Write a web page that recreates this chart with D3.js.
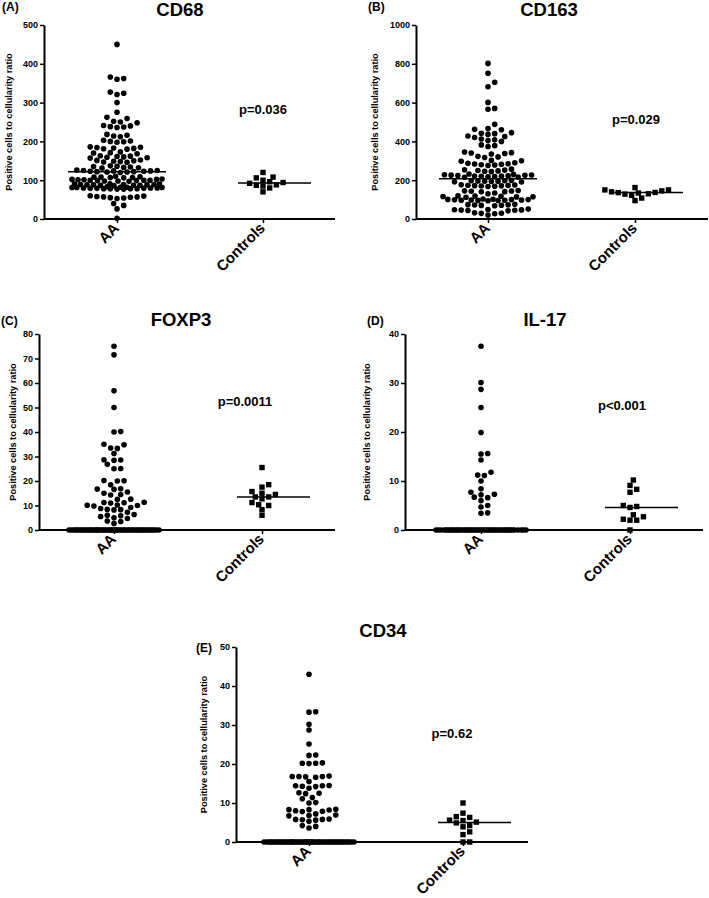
<!DOCTYPE html>
<html>
<head>
<meta charset="utf-8">
<script src="https://cdn.jsdelivr.net/npm/d3@7"></script>
<style>
  html, body { margin: 0; padding: 0; background: #fff; }
  svg { display: block; }
  text { font-family: "Liberation Sans", Arial, Helvetica, sans-serif; font-weight: bold; fill: #000; }
</style>
</head>
<body>
<svg id="chart" width="709" height="898"></svg>
<script>
// ---------------- DATA ----------------
const categories = ["AA", "Controls"];
const markers = ["CD68", "CD163", "FOXP3", "IL-17", "CD34"];
const panelLetters = ["(A)", "(B)", "(C)", "(D)", "(E)"];
const pValues = ["p=0.036", "p=0.029", "p=0.0011", "p<0.001", "p=0.62"];
const yAxisTitle = "Positive cells to cellularity ratio";

const yTicksCD68 = [0, 100, 200, 300, 400, 500];
const yTicksCD163 = [0, 200, 400, 600, 800, 1000];
const yTicksFOXP3 = [0, 10, 20, 30, 40, 50, 60, 70, 80];
const yTicksIL17 = [0, 10, 20, 30, 40];
const yTicksCD34 = [0, 10, 20, 30, 40, 50];

const cd68AA = [
  450,
  360, 362, 366,
  321, 324, 327,
  300,
  275,
  259, 262,
  248, 250, 252,
  236, 237, 238, 240, 241,
  212, 214, 216, 218,
  198, 199, 200, 201, 203,
  180, 181, 182, 183, 184, 185, 186,
  168, 170, 171, 173,
  157, 158, 159, 160, 161, 162, 163,
  146, 147, 148, 149, 150, 151, 152,
  131, 132, 133, 134, 135, 136, 137,
  120, 121, 121, 122, 122, 123, 123, 124, 124, 125, 125, 126,
  106, 107, 107, 108, 108, 109, 110,
  97, 98, 98, 99, 99, 100, 100, 100, 101, 101, 102, 102, 103,
  86, 87, 87, 87, 88, 88, 88, 89, 89, 89, 90, 90, 91,
  77, 77, 78, 78, 78, 79, 79, 79, 80, 80, 80, 81, 81, 81, 82, 82, 83, 78,
  53, 54, 55, 56, 57, 57, 58, 59, 60,
  35, 40,
  26,
  2
];
const cd68Controls = [100, 96, 88, 108, 120, 85, 70, 80, 92, 106, 94, 87];

const cd163AA = [
  20,
  27, 29, 30, 32,
  42, 44, 45, 46, 47, 48, 49, 51,
  68, 70, 71, 72, 73, 74, 76,
  94, 95, 96, 97, 97, 98, 98, 99, 100, 100, 101, 102, 103,
  112, 114, 115, 116, 117, 118, 119,
  130, 134,
  140, 141, 143, 144, 145, 147,
  167, 169, 170, 171, 172, 173, 174, 175, 176,
  191, 192, 193, 194, 195, 196, 197, 198, 199,
  215, 216, 218, 219, 220, 221, 222, 223, 224, 225, 226, 227, 228, 230, 232,
  244, 246, 248, 250, 252, 254, 257,
  276, 278, 280, 282, 283, 285, 287, 290,
  298, 300, 302,
  317, 320, 323,
  335, 338, 340, 342, 345,
  374, 378, 382,
  400, 404, 408, 412,
  420, 425, 428,
  436, 440, 442, 445,
  460, 463, 466,
  488,
  566, 570,
  601,
  682, 705, 751, 802
];
const cd163Controls = [150, 145, 137, 128, 134, 136, 140, 150, 162, 95, 108, 122, 130];

const foxp3AA = [
  75, 71.5, 56.8, 50, 40, 40.2, 35, 34.8, 33.5, 33.3, 31.2, 28.7, 28.6, 28.5, 26.8, 25, 25.1,
  20.2, 20, 20.1, 18.5, 16.8, 16.7, 16.6, 15.5, 15, 14.5, 14.3, 12.6, 12.5, 11.3, 11.2, 11, 11.1,
  10.2, 10, 10.1, 9.8, 9.2, 8.8, 8.4, 8.3, 8.2, 7.2, 6.3, 6, 5.8, 5.5, 5, 4.7, 3.7, 3.5, 2.7,
  0, 0, 0, 0, 0, 0, 0, 0, 0, 0, 0, 0, 0, 0, 0, 0, 0, 0, 0, 0,
  0, 0, 0, 0, 0, 0, 0, 0, 0, 0, 0, 0, 0, 0, 0, 0, 0, 0, 0, 0,
  0, 0, 0, 0, 0, 0, 0, 0, 0, 0, 0, 0, 0, 0, 0, 0
];
const foxp3Controls = [25.5, 18.5, 17.5, 14.5, 13.5, 12.7, 13.5, 15, 15.7, 10.3, 10, 11.2, 8.3, 6];

const il17AA = [
  37.5, 30.1, 28.7, 25, 19.9, 15.5, 15.6, 14.3, 11.8, 11.1, 11.2, 10, 8.4, 7.7, 7.2, 7.3,
  6.7, 6.6, 6, 5, 4.7, 3.4, 3.5,
  0, 0, 0, 0, 0, 0, 0, 0, 0, 0, 0, 0, 0, 0, 0, 0, 0, 0, 0, 0,
  0, 0, 0, 0, 0, 0, 0, 0, 0, 0, 0, 0, 0, 0, 0, 0, 0, 0, 0, 0,
  0, 0, 0, 0, 0, 0, 0, 0, 0, 0
];
const il17Controls = [10.2, 8.3, 9.1, 7.7, 5.0, 4.6, 4.8, 2.7, 2.0, 2.0, 2.2, 3.1, 0];

const cd34AA = [
  43, 33.4, 33.3, 30.2, 28.7, 25.1, 22.3, 22.2, 20.2, 20.1, 20.3, 20.2,
  16.8, 16.7, 16.9, 16.8, 16.6, 16.8, 15.5, 14.4, 14.3, 14.5, 14.4, 14.2, 13.8,
  12.5, 12.6, 12.4, 11.4, 11.1, 10, 10.1,
  8.3, 8.4, 8.2, 8.3, 7.9, 7.8, 8.0, 7.2, 6.8, 6.7, 6.9,
  5.8, 5.7, 5.9, 5.8, 5.6, 5.3, 4.2, 4, 3.6,
  0, 0, 0, 0, 0, 0, 0, 0, 0, 0, 0, 0, 0, 0, 0, 0, 0, 0, 0, 0,
  0, 0, 0, 0, 0, 0, 0, 0, 0, 0, 0, 0, 0, 0, 0, 0, 0, 0, 0, 0,
  0, 0, 0, 0, 0, 0, 0, 0, 0, 0, 0, 0, 0, 0, 0, 0
];
const cd34Controls = [10, 7.4, 6.5, 6.3, 5.5, 5.6, 4.9, 4.2, 3.9, 2.6, 1.9, 0, 0, 5.1];

// ---------------- LAYOUT ----------------
// catX: pixel positions of the two category ticks
const layout = [
  { left: 44,  right: 335, bottom: 219, top: 25,  yMax: 500,  ticks: yTicksCD68,  aa: cd68AA,  ctrl: cd68Controls,
    catX: [117, 263], titleXY: [180, 16], letterXY: [2, 10.5], pXY: [263, 114], yTitleX: 9 },
  { left: 416, right: 708, bottom: 219, top: 25,  yMax: 1000, ticks: yTicksCD163, aa: cd163AA, ctrl: cd163Controls,
    catX: [488, 635], titleXY: [549, 16], letterXY: [368, 10.5], pXY: [636, 124], yTitleX: 375 },
  { left: 39,  right: 335, bottom: 530, top: 334, yMax: 80,   ticks: yTicksFOXP3, aa: foxp3AA, ctrl: foxp3Controls,
    catX: [114, 262], titleXY: [181, 326], letterXY: [1, 325], pXY: [245, 406], yTitleX: 13 },
  { left: 405, right: 703, bottom: 530, top: 334, yMax: 40,   ticks: yTicksIL17,  aa: il17AA,  ctrl: il17Controls,
    catX: [481, 630], titleXY: [545, 326], letterXY: [367, 325], pXY: [622, 410], yTitleX: 367 },
  { left: 236, right: 528, bottom: 842, top: 647, yMax: 50,   ticks: yTicksCD34,  aa: cd34AA,  ctrl: cd34Controls,
    catX: [309, 463], titleXY: [383, 637], letterXY: [196, 652], pXY: [452, 738], yTitleX: 204 }
];

const svg = d3.select("#chart");

// Prism-like scatter-dot layout: points placed bottom-up, each at the
// nearest free slot on a half-spacing grid; if the row is full, squeeze in.
function swarm(values, yScale, spacing, diam, maxHalf) {
  const h = spacing / 2;
  const pts = values.map(v => ({ v, y: yScale(v) })).sort((a, b) => a.v - b.v);
  const cands = [0];
  for (let k = 1; k * h <= maxHalf; k++) cands.push(k * h, -k * h);
  const placed = [];
  for (const p of pts) {
    let pos = null;
    for (const c of cands) {
      let ok = true;
      for (const q of placed) {
        const dy = q.y - p.y;
        if (Math.abs(dy) >= diam) continue;
        const dx = q.dx - c;
        if (dx * dx + dy * dy < diam * diam - 1e-6) { ok = false; break; }
      }
      if (ok) { pos = c; break; }
    }
    if (pos === null) {
      let best = 0, bestD = -1;
      for (let c = -maxHalf; c <= maxHalf + 1e-9; c += 0.5) {
        let m = Infinity;
        for (const q of placed) {
          const dd = (q.dx - c) ** 2 + (q.y - p.y) ** 2;
          if (dd < m) m = dd;
        }
        if (m > bestD + 1e-9 || (Math.abs(m - bestD) < 1e-9 && Math.abs(c) < Math.abs(best))) { bestD = m; best = c; }
      }
      pos = best;
    }
    p.dx = pos;
    placed.push(p);
  }
  return placed;
}

layout.forEach((L, i) => {
  const g = svg.append("g");
  const y = d3.scaleLinear().domain([0, L.yMax]).range([L.bottom, L.top]);
  const x = d3.scalePoint().domain(categories).range(L.catX).padding(0);

  // x axis line (full width) + category ticks
  g.append("line").attr("x1", L.left).attr("x2", L.right).attr("y1", L.bottom).attr("y2", L.bottom)
    .attr("stroke", "#000").attr("stroke-width", 2);
  const xa = g.append("g").attr("transform", `translate(0,${L.bottom})`)
    .call(d3.axisBottom(x).tickSize(4).tickSizeOuter(0).tickFormat(""));
  xa.select(".domain").remove();
  xa.selectAll(".tick line").attr("stroke", "#000").attr("stroke-width", 1.5);

  // y axis
  const ya = g.append("g").attr("transform", `translate(${L.left},0)`)
    .call(d3.axisLeft(y).tickValues(L.ticks).tickSize(4).tickSizeOuter(0).tickPadding(2).tickFormat(d3.format("d")));
  ya.select(".domain").attr("stroke", "#000").attr("stroke-width", 2);
  ya.selectAll(".tick line").attr("stroke", "#000").attr("stroke-width", 1.5);
  ya.selectAll(".tick text").style("font-size", "9px").style("font-weight", "bold")
    .style("font-family", '"Liberation Sans", Arial, sans-serif').attr("fill", "#000");

  // category labels, rotated
  categories.forEach(c => {
    g.append("text")
      .attr("transform", `translate(${x(c) + 3},${L.bottom + 10}) rotate(-45)`)
      .attr("text-anchor", "end")
      .style("font-size", "15px")
      .text(c);
  });

  // y-axis title
  g.append("text")
    .attr("transform", `translate(${L.yTitleX},${(L.top + L.bottom) / 2}) rotate(-90)`)
    .attr("text-anchor", "middle")
    .attr("dominant-baseline", "central")
    .style("font-size", "9.2px")
    .text(yAxisTitle);

  // title, panel letter, p-value
  g.append("text").attr("x", L.titleXY[0]).attr("y", L.titleXY[1])
    .attr("text-anchor", "middle").style("font-size", "18.5px").text(markers[i]);
  g.append("text").attr("x", L.letterXY[0]).attr("y", L.letterXY[1])
    .style("font-size", "12px").text(panelLetters[i]);
  g.append("text").attr("x", L.pXY[0]).attr("y", L.pXY[1])
    .attr("text-anchor", "middle").style("font-size", "13px").text(pValues[i]);

  // AA dots
  const aaPts = swarm(L.aa, y, 6.7, 5.6, 45);
  g.append("g").selectAll("circle").data(aaPts).join("circle")
    .attr("cx", d => x("AA") + d.dx).attr("cy", d => d.y).attr("r", 2.8).attr("fill", "#000");

  // Control squares
  const cPts = swarm(L.ctrl, y, 6.7, 5.6, 45);
  const sq = 5.4;
  g.append("g").selectAll("rect").data(cPts).join("rect")
    .attr("x", d => x("Controls") + d.dx - sq / 2).attr("y", d => d.y - sq / 2)
    .attr("width", sq).attr("height", sq).attr("fill", "#000");

  // median lines
  const medAA = d3.median(L.aa);
  const medC = d3.median(L.ctrl);
  g.append("line").attr("x1", x("AA") - 49).attr("x2", x("AA") + 49)
    .attr("y1", y(medAA)).attr("y2", y(medAA)).attr("stroke", "#000").attr("stroke-width", 1.5);
  g.append("line").attr("x1", x("Controls") - 25).attr("x2", x("Controls") + 48)
    .attr("y1", y(medC)).attr("y2", y(medC)).attr("stroke", "#000").attr("stroke-width", 1.5);
});
</script>
</body>
</html>
